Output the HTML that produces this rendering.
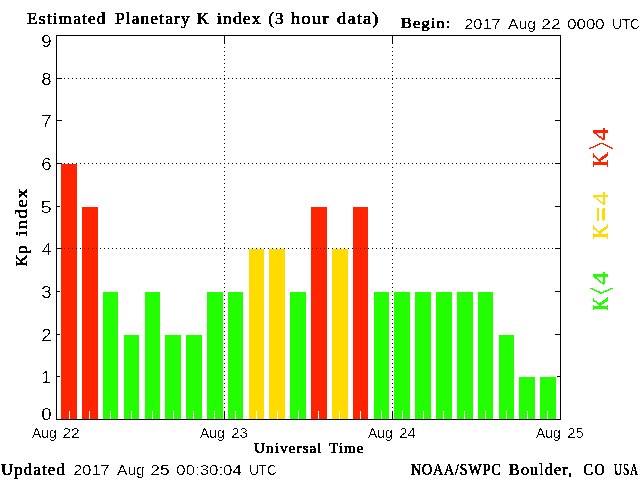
<!DOCTYPE html>
<html lang="en"><head><meta charset="utf-8"><title>Estimated Planetary K index</title><style>
html,body{margin:0;padding:0;background:#fff;}
body{width:640px;height:480px;overflow:hidden;}
svg{display:block;}
.sf{font-family:"Liberation Serif",serif;font-weight:normal;fill:#000;letter-spacing:1.1px;stroke:#000;stroke-width:0.6;}
.sn{font-family:"Liberation Serif",serif;font-weight:normal;fill:#000;letter-spacing:1.1px;stroke:#000;stroke-width:0.5;}
.sr{font-family:"Liberation Serif",serif;font-weight:normal;}
.ss{font-family:"Liberation Sans",sans-serif;fill:#000;}
</style></head><body>
<svg width="640" height="480" viewBox="0 0 640 480">
<defs><filter id="bw" x="0" y="0" width="640" height="480" filterUnits="userSpaceOnUse" color-interpolation-filters="sRGB"><feComponentTransfer><feFuncA type="discrete" tableValues="0 0 1 1"/></feComponentTransfer></filter><filter id="bs" x="0" y="0" width="640" height="480" filterUnits="userSpaceOnUse" color-interpolation-filters="sRGB"><feComponentTransfer><feFuncA type="discrete" tableValues="0 0 0 1 1"/></feComponentTransfer></filter><filter id="bl" x="0" y="0" width="640" height="480" filterUnits="userSpaceOnUse" color-interpolation-filters="sRGB"><feComponentTransfer><feFuncA type="discrete" tableValues="0 0 1 1 1"/></feComponentTransfer></filter></defs>
<rect x="0" y="0" width="640" height="480" fill="#fff"/>
<g shape-rendering="crispEdges">
<rect x="57" y="376" width="5" height="1" fill="#000"/>
<rect x="555" y="376" width="5" height="1" fill="#000"/>
<rect x="57" y="334" width="5" height="1" fill="#000"/>
<rect x="555" y="334" width="5" height="1" fill="#000"/>
<rect x="57" y="291" width="5" height="1" fill="#000"/>
<rect x="555" y="291" width="5" height="1" fill="#000"/>
<rect x="57" y="248" width="5" height="1" fill="#000"/>
<rect x="555" y="248" width="5" height="1" fill="#000"/>
<rect x="57" y="206" width="5" height="1" fill="#000"/>
<rect x="555" y="206" width="5" height="1" fill="#000"/>
<rect x="57" y="163" width="5" height="1" fill="#000"/>
<rect x="555" y="163" width="5" height="1" fill="#000"/>
<rect x="57" y="120" width="5" height="1" fill="#000"/>
<rect x="555" y="120" width="5" height="1" fill="#000"/>
<rect x="57" y="78" width="5" height="1" fill="#000"/>
<rect x="555" y="78" width="5" height="1" fill="#000"/>
<rect x="60" y="163" width="18" height="256" fill="#fff"/>
<rect x="61" y="164" width="16" height="255" fill="#ff2400"/>
<rect x="81" y="206" width="18" height="213" fill="#fff"/>
<rect x="82" y="207" width="16" height="212" fill="#ff2400"/>
<rect x="102" y="291" width="17" height="128" fill="#fff"/>
<rect x="103" y="292" width="15" height="127" fill="#24ff00"/>
<rect x="123" y="334" width="17" height="85" fill="#fff"/>
<rect x="124" y="335" width="15" height="84" fill="#24ff00"/>
<rect x="144" y="291" width="17" height="128" fill="#fff"/>
<rect x="145" y="292" width="15" height="127" fill="#24ff00"/>
<rect x="164" y="334" width="18" height="85" fill="#fff"/>
<rect x="165" y="335" width="16" height="84" fill="#24ff00"/>
<rect x="185" y="334" width="18" height="85" fill="#fff"/>
<rect x="186" y="335" width="16" height="84" fill="#24ff00"/>
<rect x="206" y="291" width="18" height="128" fill="#fff"/>
<rect x="207" y="292" width="16" height="127" fill="#24ff00"/>
<rect x="227" y="291" width="17" height="128" fill="#fff"/>
<rect x="228" y="292" width="15" height="127" fill="#24ff00"/>
<rect x="248" y="248" width="17" height="171" fill="#fff"/>
<rect x="249" y="249" width="15" height="170" fill="#ffdb00"/>
<rect x="268" y="248" width="18" height="171" fill="#fff"/>
<rect x="269" y="249" width="16" height="170" fill="#ffdb00"/>
<rect x="289" y="291" width="18" height="128" fill="#fff"/>
<rect x="290" y="292" width="16" height="127" fill="#24ff00"/>
<rect x="310" y="206" width="18" height="213" fill="#fff"/>
<rect x="311" y="207" width="16" height="212" fill="#ff2400"/>
<rect x="331" y="248" width="18" height="171" fill="#fff"/>
<rect x="332" y="249" width="16" height="170" fill="#ffdb00"/>
<rect x="352" y="206" width="17" height="213" fill="#fff"/>
<rect x="353" y="207" width="15" height="212" fill="#ff2400"/>
<rect x="373" y="291" width="17" height="128" fill="#fff"/>
<rect x="374" y="292" width="15" height="127" fill="#24ff00"/>
<rect x="393" y="291" width="18" height="128" fill="#fff"/>
<rect x="394" y="292" width="16" height="127" fill="#24ff00"/>
<rect x="414" y="291" width="18" height="128" fill="#fff"/>
<rect x="415" y="292" width="16" height="127" fill="#24ff00"/>
<rect x="435" y="291" width="18" height="128" fill="#fff"/>
<rect x="436" y="292" width="16" height="127" fill="#24ff00"/>
<rect x="456" y="291" width="18" height="128" fill="#fff"/>
<rect x="457" y="292" width="16" height="127" fill="#24ff00"/>
<rect x="477" y="291" width="17" height="128" fill="#fff"/>
<rect x="478" y="292" width="15" height="127" fill="#24ff00"/>
<rect x="498" y="334" width="17" height="85" fill="#fff"/>
<rect x="499" y="335" width="15" height="84" fill="#24ff00"/>
<rect x="518" y="376" width="18" height="43" fill="#fff"/>
<rect x="519" y="377" width="16" height="42" fill="#24ff00"/>
<rect x="539" y="376" width="18" height="43" fill="#fff"/>
<rect x="540" y="377" width="16" height="42" fill="#24ff00"/>
<rect x="69" y="411" width="1" height="8" fill="#fff"/>
<rect x="89" y="411" width="1" height="8" fill="#fff"/>
<rect x="110" y="411" width="1" height="8" fill="#fff"/>
<rect x="131" y="411" width="1" height="8" fill="#fff"/>
<rect x="152" y="411" width="1" height="8" fill="#fff"/>
<rect x="173" y="411" width="1" height="8" fill="#fff"/>
<rect x="193" y="411" width="1" height="8" fill="#fff"/>
<rect x="214" y="411" width="1" height="8" fill="#fff"/>
<rect x="235" y="411" width="1" height="8" fill="#fff"/>
<rect x="256" y="411" width="1" height="8" fill="#fff"/>
<rect x="277" y="411" width="1" height="8" fill="#fff"/>
<rect x="298" y="411" width="1" height="8" fill="#fff"/>
<rect x="318" y="411" width="1" height="8" fill="#fff"/>
<rect x="339" y="411" width="1" height="8" fill="#fff"/>
<rect x="360" y="411" width="1" height="8" fill="#fff"/>
<rect x="381" y="411" width="1" height="8" fill="#fff"/>
<rect x="402" y="411" width="1" height="8" fill="#fff"/>
<rect x="423" y="411" width="1" height="8" fill="#fff"/>
<rect x="443" y="411" width="1" height="8" fill="#fff"/>
<rect x="464" y="411" width="1" height="8" fill="#fff"/>
<rect x="485" y="411" width="1" height="8" fill="#fff"/>
<rect x="506" y="411" width="1" height="8" fill="#fff"/>
<rect x="527" y="411" width="1" height="8" fill="#fff"/>
<rect x="547" y="411" width="1" height="8" fill="#fff"/>
<rect x="56" y="35" width="505" height="1" fill="#000"/>
<rect x="56" y="419" width="505" height="1" fill="#000"/>
<rect x="56" y="35" width="1" height="385" fill="#000"/>
<rect x="560" y="35" width="1" height="385" fill="#000"/>
<rect x="224" y="36" width="1" height="8" fill="#000"/>
<rect x="224" y="411" width="1" height="8" fill="#000"/>
<rect x="392" y="36" width="1" height="8" fill="#000"/>
<rect x="392" y="411" width="1" height="8" fill="#000"/>
</g>
<g shape-rendering="crispEdges" stroke="#000" stroke-width="1" fill="#000">
<rect x="57" y="248" width="5" height="1" stroke="none"/>
<line x1="64" y1="248.5" x2="560" y2="248.5" stroke-dasharray="1 3"/>
<rect x="57" y="163" width="5" height="1" stroke="none"/>
<line x1="64" y1="163.5" x2="560" y2="163.5" stroke-dasharray="1 3"/>
<rect x="57" y="78" width="5" height="1" stroke="none"/>
<line x1="64" y1="78.5" x2="560" y2="78.5" stroke-dasharray="1 3"/>
<line x1="224.5" y1="47" x2="224.5" y2="411" stroke-dasharray="1 3"/>
<line x1="392.5" y1="47" x2="392.5" y2="411" stroke-dasharray="1 3"/>
</g>
<g filter="url(#bw)">
<text class="sf" font-size="16.5" x="27.00" y="24" textLength="79.70" lengthAdjust="spacingAndGlyphs">Estimated</text>
<text class="sf" font-size="16.5" x="115.00" y="24" textLength="75.70" lengthAdjust="spacingAndGlyphs">Planetary</text>
<text class="sf" font-size="16.5" x="197.00" y="24" textLength="12.75" lengthAdjust="spacingAndGlyphs">K</text>
<text class="sf" font-size="16.5" x="217.00" y="24" textLength="44.70" lengthAdjust="spacingAndGlyphs">index</text>
<text class="sf" font-size="16.5" x="268.15" y="24" textLength="16.45" lengthAdjust="spacingAndGlyphs">(3</text>
<text class="sf" font-size="16.5" x="291.05" y="24" textLength="38.70" lengthAdjust="spacingAndGlyphs">hour</text>
<text class="sf" font-size="16.5" x="337.10" y="24" textLength="42.50" lengthAdjust="spacingAndGlyphs">data)</text>
<text class="sf" font-size="15.5" x="401.05" y="28" textLength="50.59" lengthAdjust="spacingAndGlyphs">Begin:</text>
<text class="sf" font-size="15.3" x="253.95" y="453" textLength="68.70" lengthAdjust="spacingAndGlyphs">Universal</text>
<text class="sf" font-size="15.3" x="328.95" y="453" textLength="35.65" lengthAdjust="spacingAndGlyphs">Time</text>
<text class="sf" font-size="16.5" x="1.10" y="475" textLength="64.70" lengthAdjust="spacingAndGlyphs">Updated</text>
<text class="sn" font-size="16.5" x="411.10" y="475" textLength="90.46" lengthAdjust="spacingAndGlyphs">NOAA/SWPC</text>
<text class="sn" font-size="16.5" x="509.10" y="475" textLength="64.12" lengthAdjust="spacingAndGlyphs">Boulder,</text>
<text class="sn" font-size="16.5" x="583.62" y="475" textLength="21.98" lengthAdjust="spacingAndGlyphs">CO</text>
<text class="sn" font-size="16.5" x="614.10" y="475" textLength="24.80" lengthAdjust="spacingAndGlyphs">USA</text>
<text class="sf" font-size="17" transform="translate(27,266.28) rotate(-90)" textLength="21.88" lengthAdjust="spacingAndGlyphs">Kp</text>
<text class="sf" font-size="17" transform="translate(27,236.00) rotate(-90)" textLength="48.65" lengthAdjust="spacingAndGlyphs">index</text>
</g><g filter="url(#bs)">
<text class="ss" font-size="14" x="464.20" y="28.5" textLength="36.60" lengthAdjust="spacingAndGlyphs">2017</text>
<text class="ss" font-size="14" x="508.10" y="28.5" textLength="27.70" lengthAdjust="spacingAndGlyphs">Aug</text>
<text class="ss" font-size="14" x="541.30" y="28.5" textLength="19.50" lengthAdjust="spacingAndGlyphs">22</text>
<text class="ss" font-size="14" x="567.20" y="28.5" textLength="37.60" lengthAdjust="spacingAndGlyphs">0000</text>
<text class="ss" font-size="14" x="612.20" y="28.5" textLength="27.60" lengthAdjust="spacingAndGlyphs">UTC</text>
<text class="ss" font-size="14" x="32.00" y="438" textLength="24.80" lengthAdjust="spacingAndGlyphs">Aug</text>
<text class="ss" font-size="14" x="62.30" y="438" textLength="17.50" lengthAdjust="spacingAndGlyphs">22</text>
<text class="ss" font-size="14" x="200.00" y="438" textLength="24.80" lengthAdjust="spacingAndGlyphs">Aug</text>
<text class="ss" font-size="14" x="231.20" y="438" textLength="16.60" lengthAdjust="spacingAndGlyphs">23</text>
<text class="ss" font-size="14" x="368.00" y="438" textLength="24.80" lengthAdjust="spacingAndGlyphs">Aug</text>
<text class="ss" font-size="14" x="399.20" y="438" textLength="16.60" lengthAdjust="spacingAndGlyphs">24</text>
<text class="ss" font-size="14" x="536.00" y="438" textLength="24.70" lengthAdjust="spacingAndGlyphs">Aug</text>
<text class="ss" font-size="14" x="567.20" y="438" textLength="16.60" lengthAdjust="spacingAndGlyphs">25</text>
<text class="ss" font-size="15.4" x="73.15" y="475" textLength="36.60" lengthAdjust="spacingAndGlyphs">2017</text>
<text class="ss" font-size="15.4" x="117.00" y="475" textLength="27.75" lengthAdjust="spacingAndGlyphs">Aug</text>
<text class="ss" font-size="15.4" x="150.25" y="475" textLength="19.50" lengthAdjust="spacingAndGlyphs">25</text>
<text class="ss" font-size="15.4" x="176.30" y="475" textLength="65.55" lengthAdjust="spacingAndGlyphs">00:30:04</text>
<text class="ss" font-size="15.4" x="249.20" y="475" textLength="27.50" lengthAdjust="spacingAndGlyphs">UTC</text>
<text class="ss" font-size="16.6" x="41.20" y="420" textLength="10.36" lengthAdjust="spacingAndGlyphs">0</text>
<text class="ss" font-size="16.6" x="41.3" y="383">1</text>
<text class="ss" font-size="16.6" x="41.20" y="341" textLength="10.36" lengthAdjust="spacingAndGlyphs">2</text>
<text class="ss" font-size="16.6" x="41.20" y="298" textLength="10.36" lengthAdjust="spacingAndGlyphs">3</text>
<text class="ss" font-size="16.6" x="42.00" y="255" textLength="9.56" lengthAdjust="spacingAndGlyphs">4</text>
<text class="ss" font-size="16.6" x="40.40" y="213" textLength="11.16" lengthAdjust="spacingAndGlyphs">5</text>
<text class="ss" font-size="16.6" x="41.20" y="170" textLength="10.36" lengthAdjust="spacingAndGlyphs">6</text>
<text class="ss" font-size="16.6" x="41.20" y="127" textLength="10.36" lengthAdjust="spacingAndGlyphs">7</text>
<text class="ss" font-size="16.6" x="41.20" y="85" textLength="10.36" lengthAdjust="spacingAndGlyphs">8</text>
<text class="ss" font-size="16.6" x="41.20" y="47" textLength="10.36" lengthAdjust="spacingAndGlyphs">9</text>
</g><g filter="url(#bl)">
<text class="sr" font-size="24" fill="#ff2400" stroke="#ff2400" stroke-width="0.4" transform="translate(608,167.00) rotate(-90)" textLength="15.00" lengthAdjust="spacingAndGlyphs">K</text><text class="sr" font-size="24" fill="#ff2400" stroke="#ff2400" stroke-width="0" transform="translate(601,148.95) rotate(-90) scale(1,2.2) translate(0,8.04)" textLength="6.85" lengthAdjust="spacingAndGlyphs">&gt;</text><text class="sr" font-size="24" fill="#ff2400" stroke="#ff2400" stroke-width="0.15" transform="translate(608,140.76) rotate(-90)" textLength="12.76" lengthAdjust="spacingAndGlyphs">4</text>
<text class="sr" font-size="24" fill="#ffdb00" stroke="#ffdb00" stroke-width="0.4" transform="translate(608,238.95) rotate(-90)" textLength="14.71" lengthAdjust="spacingAndGlyphs">K</text><text class="sr" font-size="24" fill="#ffdb00" stroke="#ffdb00" stroke-width="0.3" transform="translate(601,221.56) rotate(-90) scale(1,1.25) translate(0,8.04)" textLength="14.36" lengthAdjust="spacingAndGlyphs">=</text><text class="sr" font-size="24" fill="#ffdb00" stroke="#ffdb00" stroke-width="0.15" transform="translate(608,205.04) rotate(-90)" textLength="12.94" lengthAdjust="spacingAndGlyphs">4</text>
<text class="sr" font-size="24" fill="#24ff00" stroke="#24ff00" stroke-width="0.4" transform="translate(608,310.76) rotate(-90)" textLength="13.91" lengthAdjust="spacingAndGlyphs">K</text><text class="sr" font-size="24" fill="#24ff00" stroke="#24ff00" stroke-width="0" transform="translate(601,293.95) rotate(-90) scale(1,2.2) translate(0,8.04)" textLength="6.85" lengthAdjust="spacingAndGlyphs">&lt;</text><text class="sr" font-size="24" fill="#24ff00" stroke="#24ff00" stroke-width="0.15" transform="translate(608,285.04) rotate(-90)" textLength="13.04" lengthAdjust="spacingAndGlyphs">4</text>
</g>
</svg></body></html>
